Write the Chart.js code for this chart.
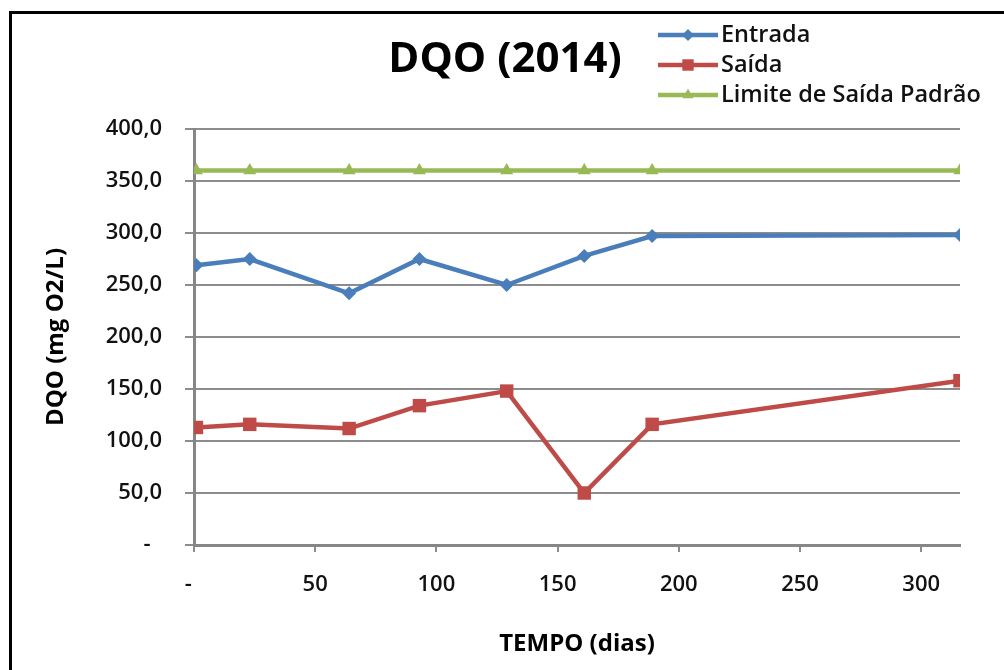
<!DOCTYPE html>
<html>
<head>
<meta charset="utf-8">
<script src="https://cdn.jsdelivr.net/npm/chart.js@4.4.1/dist/chart.umd.min.js"></script>
<style>
  html, body { margin: 0; padding: 0; background: #fff; }
  #wrap { position: relative; width: 1004px; height: 670px; overflow: hidden; }
  #frame { position: absolute; left: 9px; top: 11px; width: 1010px; height: 700px;
           border-left: 3px solid #000; border-top: 3px solid #000; pointer-events: none; }
  canvas { position: absolute; left: 0; top: 0; }
</style>
</head>
<body>
<div id="wrap">
  <canvas id="chart" width="1004" height="670"></canvas>
  <div id="frame"></div>
</div>
<script>
// Texts
const chartTitle = 'DQO (2014)';
const xAxisTitle = 'TEMPO (dias)';
const yAxisTitle = 'DQO (mg O2/L)';
const seriesNames = ['Entrada', 'Saída', 'Limite de Saída Padrão'];

// Sampling days and measured values (mg O2/L)
const tempoDias = [1, 23, 64, 93, 129, 161, 189, 316];
const entrada   = [269, 275, 242, 275, 250, 278, 297, 298];
const saida     = [113, 116, 112, 134, 148, 50, 116, 158];
const limite    = [360, 360, 360, 360, 360, 360, 360, 360];

// Axis ticks (zero is shown as an accounting-style dash)
const xTickValues = [0, 50, 100, 150, 200, 250, 300];
const yTickValues = [0, 50, 100, 150, 200, 250, 300, 350, 400];
const zeroLabel = '-  ';

const seriesColors = ['#4A7EBB', '#BE4B48', '#98B954'];
const seriesMarkers = ['rectRot', 'rect', 'triangle'];
const markerRadius = [7, 9.5, 7.5];

const pts = (ys) => tempoDias.map((x, i) => ({ x: x, y: ys[i] }));
const seriesValues = [entrada, saida, limite];

const datasets = seriesValues.map((vals, i) => ({
  label: seriesNames[i],
  data: pts(vals),
  showLine: true,
  borderColor: seriesColors[i],
  backgroundColor: seriesColors[i],
  borderWidth: 4.5,
  pointStyle: seriesMarkers[i],
  pointRadius: markerRadius[i],
  pointBorderWidth: 0,
  pointBackgroundColor: seriesColors[i],
  tension: 0
}));

const FONT = '"Open Sans", "DejaVu Sans", sans-serif';
const gridGray = '#8C8C8C';

// Title and the legend block at the top right
const headerPlugin = {
  id: 'header',
  afterDraw(chart) {
    const ctx = chart.ctx;
    ctx.save();
    ctx.fillStyle = '#000';
    ctx.font = 'bold 42px ' + FONT;
    ctx.textAlign = 'center';
    ctx.textBaseline = 'middle';
    ctx.fillText(chartTitle, 505, 60);

    chart.data.datasets.forEach((ds, i) => {
      const y = 35 + i * 30;
      ctx.strokeStyle = ds.borderColor;
      ctx.lineWidth = ds.borderWidth;
      ctx.beginPath();
      ctx.moveTo(658, y);
      ctx.lineTo(718, y);
      ctx.stroke();
      ctx.fillStyle = ds.backgroundColor;
      ctx.strokeStyle = ds.backgroundColor;
      Chart.helpers.drawPoint(ctx, {
        pointStyle: ds.pointStyle,
        radius: ds.pointRadius * 0.85,
        borderWidth: 0
      }, 688, y);
      ctx.fillStyle = '#111';
      ctx.font = '600 23.5px ' + FONT;
      ctx.textAlign = 'left';
      ctx.textBaseline = 'middle';
      ctx.fillText(ds.label, 721, y);
    });
    ctx.restore();
  }
};

new Chart(document.getElementById('chart'), {
  type: 'scatter',
  data: { datasets: datasets },
  options: {
    responsive: false,
    animation: false,
    devicePixelRatio: 1,
    layout: { padding: { left: 0, top: 129, right: 44, bottom: 0 } },
    plugins: {
      legend: { display: false },
      title: { display: false },
      tooltip: { enabled: false }
    },
    scales: {
      x: {
        type: 'linear',
        min: 0,
        max: 316,
        afterFit(scale) { scale.height = 125; },
        afterBuildTicks(scale) { scale.ticks = xTickValues.map(v => ({ value: v })); },
        ticks: {
          includeBounds: false,
          padding: 20,
          color: '#111',
          font: { family: FONT, size: 22, weight: '600' },
          callback: (v) => (v === 0 ? zeroLabel : String(v))
        },
        grid: {
          drawOnChartArea: false,
          drawTicks: true,
          tickLength: 7,
          color: gridGray,
          lineWidth: 2
        },
        border: { color: '#868686', width: 3 },
        title: {
          display: true,
          text: xAxisTitle,
          color: '#000',
          font: { family: FONT, size: 24, weight: 'bold' },
          padding: { top: 0, bottom: 11 }
        }
      },
      y: {
        min: 0,
        max: 400,
        afterFit(scale) { scale.width = 194; },
        afterBuildTicks(scale) { scale.ticks = yTickValues.map(v => ({ value: v })); },
        ticks: {
          padding: 23,
          color: '#111',
          font: { family: FONT, size: 22, weight: '600' },
          callback: (v) => (v === 0 ? zeroLabel : v.toFixed(1).replace('.', ','))
        },
        grid: {
          drawTicks: true,
          tickLength: 9,
          color: gridGray,
          lineWidth: 2
        },
        border: { color: '#868686', width: 3 },
        title: {
          display: true,
          text: yAxisTitle,
          color: '#000',
          font: { family: FONT, size: 24, weight: 'bold' },
          padding: { top: 42, bottom: 0 }
        }
      }
    }
  },
  plugins: [headerPlugin]
});
</script>
</body>
</html>
